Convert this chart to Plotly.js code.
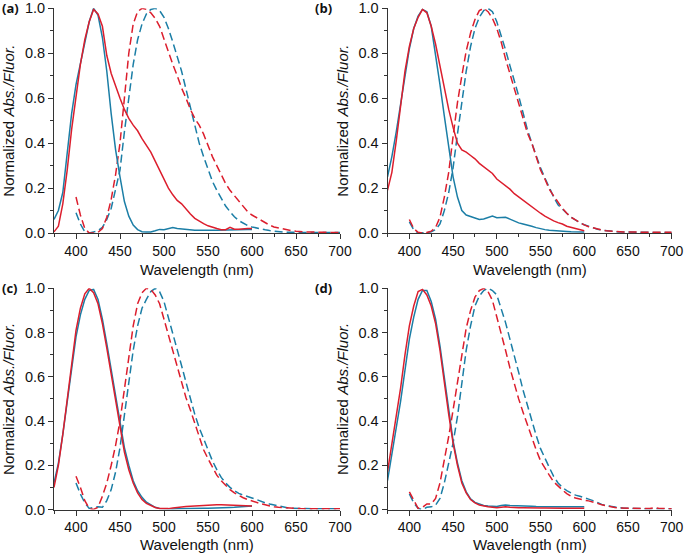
<!DOCTYPE html>
<html>
<head>
<meta charset="utf-8">
<script src="https://cdn.plot.ly/plotly-3.0.1.min.js"></script>
<style>html,body{margin:0;padding:0;background:#fff;}#chart{width:685px;height:554px;}</style>
</head>
<body>
<div id="chart"></div>
<script>
// Wavelength grids (nm)
const absWl = [375,380,385,390,395,400,405,410,415,420,425,430,435,440,445,450,455,460,465,470,475,480,485,490,495,500,505,510,515,520,525,530,535,540,545,550,555,560,565,570,575,580,585,590,595,600];
const flWl = [400,405,410,415,420,425,430,435,440,445,450,455,460,465,470,475,480,485,490,495,500,505,510,515,520,525,530,535,540,545,550,555,560,565,570,575,580,585,590,595,600,605,610,615,620,625,630,635,640,645,650,655,660,665,670,675,680,685,690,695,700];

// Tick values / labels
const xTickVals = [400,450,500,550,600,650,700];
const xTickText = ['400','450','500','550','600','650','700'];
const yTickVals = [0,0.2,0.4,0.6,0.8,1.0];
const yTickText = ['0.0','0.2','0.4','0.6','0.8','1.0'];

// Panel (a)
const aAbsBlue = [0.06,0.10,0.18,0.36,0.53,0.66,0.75,0.84,0.94,1.0,0.97,0.87,0.72,0.53,0.37,0.25,0.14,0.075,0.035,0.015,0.006,0.004,0.005,0.01,0.016,0.014,0.018,0.024,0.02,0.018,0.013,0.012,0.012,0.012,0.011,0.011,0.012,0.012,0.013,0.013,0.014,0.014,0.015,0.015,0.016,0.016];
const aAbsRed = [0.005,0.03,0.13,0.28,0.46,0.61,0.75,0.86,0.94,0.995,0.975,0.92,0.79,0.71,0.65,0.60,0.55,0.51,0.48,0.455,0.42,0.39,0.36,0.32,0.28,0.24,0.20,0.17,0.145,0.13,0.105,0.085,0.065,0.052,0.042,0.032,0.025,0.02,0.015,0.015,0.025,0.017,0.017,0.02,0.02,0.02];
const aFlBlue = [0.09,0.04,0.005,0.0,0.005,0.01,0.025,0.06,0.11,0.19,0.28,0.45,0.61,0.75,0.86,0.93,0.975,0.995,1.0,0.99,0.96,0.91,0.85,0.79,0.72,0.64,0.56,0.48,0.40,0.34,0.28,0.23,0.19,0.155,0.12,0.095,0.072,0.055,0.043,0.033,0.027,0.022,0.018,0.014,0.011,0.008,0.006,0.004,0.003,0.003,0.002,0.002,0.002,0.002,0.002,0.002,0.002,0.002,0.002,0.002,0.002];
const aFlRed = [0.16,0.08,0.02,0.0,0.0,0.003,0.02,0.07,0.15,0.26,0.40,0.61,0.80,0.93,0.985,1.0,0.995,0.98,0.955,0.92,0.86,0.80,0.75,0.70,0.645,0.60,0.55,0.51,0.48,0.44,0.39,0.34,0.30,0.26,0.22,0.19,0.165,0.14,0.115,0.095,0.08,0.068,0.058,0.045,0.035,0.027,0.022,0.018,0.014,0.01,0.008,0.006,0.005,0.004,0.004,0.003,0.003,0.003,0.002,0.002,0.002];

// Panel (b)
const bAbsBlue = [0.25,0.34,0.45,0.57,0.71,0.82,0.91,0.965,0.995,0.985,0.92,0.80,0.66,0.52,0.385,0.25,0.16,0.10,0.08,0.074,0.068,0.06,0.062,0.068,0.075,0.068,0.07,0.07,0.062,0.052,0.045,0.04,0.036,0.03,0.024,0.018,0.015,0.012,0.01,0.009,0.008,0.007,0.006,0.006,0.005,0.005];
const bAbsRed = [0.19,0.27,0.41,0.57,0.72,0.83,0.91,0.96,0.995,0.98,0.92,0.84,0.74,0.64,0.55,0.47,0.40,0.37,0.36,0.345,0.33,0.31,0.295,0.28,0.265,0.24,0.225,0.21,0.195,0.175,0.16,0.145,0.13,0.115,0.10,0.088,0.075,0.064,0.054,0.046,0.04,0.03,0.025,0.02,0.015,0.01];
const bFlBlue = [0.05,0.015,0.0,0.0,0.002,0.005,0.015,0.04,0.10,0.18,0.29,0.44,0.59,0.72,0.83,0.91,0.96,0.99,1.0,0.985,0.94,0.88,0.815,0.745,0.68,0.61,0.535,0.46,0.40,0.34,0.29,0.245,0.20,0.16,0.125,0.105,0.088,0.07,0.057,0.045,0.037,0.03,0.023,0.017,0.013,0.01,0.008,0.006,0.005,0.004,0.004,0.003,0.003,0.003,0.003,0.003,0.003,0.002,0.002,0.002,0.002];
const bFlRed = [0.06,0.02,0.003,0.0,0.002,0.008,0.025,0.07,0.16,0.27,0.43,0.58,0.70,0.81,0.89,0.95,0.99,1.0,0.985,0.955,0.91,0.85,0.775,0.71,0.645,0.585,0.51,0.445,0.40,0.34,0.28,0.24,0.195,0.165,0.135,0.11,0.088,0.07,0.058,0.046,0.036,0.028,0.022,0.017,0.013,0.01,0.008,0.007,0.006,0.005,0.005,0.004,0.004,0.004,0.003,0.003,0.003,0.003,0.003,0.003,0.003];

// Panel (c)
const cAbsBlue = [0.12,0.21,0.34,0.48,0.63,0.78,0.88,0.95,0.99,0.995,0.95,0.86,0.75,0.63,0.50,0.38,0.28,0.20,0.13,0.085,0.055,0.033,0.02,0.01,0.005,0.003,0.002,0.002,0.003,0.004,0.004,0.005,0.005,0.005,0.006,0.006,0.006,0.007,0.008,0.008,0.009,0.01,0.011,0.013,0.015,0.016];
const cAbsRed = [0.10,0.20,0.34,0.49,0.66,0.81,0.91,0.975,1.0,0.98,0.93,0.84,0.73,0.61,0.48,0.36,0.26,0.18,0.12,0.075,0.045,0.028,0.017,0.009,0.005,0.003,0.004,0.007,0.01,0.012,0.014,0.015,0.016,0.018,0.02,0.022,0.022,0.022,0.021,0.02,0.02,0.019,0.018,0.017,0.016,0.016];
const cFlBlue = [0.12,0.07,0.03,0.005,0.01,0.012,0.01,0.04,0.09,0.17,0.28,0.42,0.57,0.72,0.83,0.91,0.95,0.985,1.0,0.985,0.94,0.87,0.80,0.73,0.65,0.575,0.50,0.43,0.37,0.32,0.265,0.22,0.18,0.145,0.12,0.10,0.085,0.073,0.065,0.057,0.052,0.045,0.037,0.03,0.025,0.02,0.015,0.011,0.008,0.006,0.005,0.004,0.004,0.003,0.003,0.003,0.003,0.003,0.003,0.003,0.003];
const cFlRed = [0.15,0.10,0.04,0.005,0.0,0.01,0.06,0.12,0.20,0.29,0.40,0.55,0.70,0.83,0.93,0.98,1.0,0.995,0.97,0.93,0.86,0.79,0.72,0.65,0.57,0.505,0.45,0.39,0.33,0.27,0.23,0.19,0.155,0.13,0.11,0.09,0.075,0.063,0.053,0.045,0.038,0.032,0.026,0.021,0.016,0.012,0.01,0.008,0.006,0.005,0.005,0.004,0.004,0.004,0.003,0.003,0.005,0.006,0.004,0.003,0.003];

// Panel (d)
const dAbsBlue = [0.13,0.25,0.36,0.49,0.63,0.77,0.87,0.95,0.99,0.99,0.94,0.86,0.74,0.59,0.45,0.31,0.21,0.13,0.08,0.048,0.032,0.024,0.018,0.016,0.015,0.014,0.018,0.02,0.018,0.018,0.017,0.016,0.015,0.015,0.014,0.013,0.013,0.013,0.012,0.012,0.012,0.012,0.012,0.012,0.012,0.012];
const dAbsRed = [0.17,0.29,0.41,0.55,0.70,0.83,0.92,0.985,0.995,0.97,0.92,0.84,0.72,0.57,0.43,0.30,0.20,0.12,0.075,0.045,0.03,0.02,0.015,0.012,0.01,0.008,0.01,0.012,0.01,0.008,0.008,0.008,0.007,0.007,0.007,0.007,0.007,0.006,0.006,0.006,0.006,0.006,0.006,0.006,0.006,0.006];
const dFlBlue = [0.07,0.03,0.005,0.0,0.01,0.012,0.02,0.05,0.12,0.21,0.30,0.42,0.58,0.72,0.83,0.92,0.965,0.99,1.0,0.99,0.97,0.91,0.845,0.77,0.70,0.62,0.54,0.47,0.405,0.335,0.275,0.23,0.19,0.15,0.12,0.10,0.085,0.075,0.065,0.06,0.055,0.047,0.04,0.03,0.023,0.017,0.013,0.01,0.008,0.006,0.005,0.004,0.004,0.003,0.003,0.003,0.003,0.003,0.003,0.003,0.003];
const dFlRed = [0.08,0.04,0.005,0.01,0.025,0.025,0.05,0.12,0.22,0.33,0.45,0.58,0.70,0.82,0.90,0.96,0.99,1.0,0.985,0.945,0.87,0.80,0.72,0.64,0.565,0.50,0.44,0.38,0.32,0.27,0.22,0.185,0.155,0.125,0.105,0.088,0.072,0.06,0.052,0.046,0.042,0.039,0.035,0.028,0.021,0.016,0.012,0.009,0.007,0.006,0.006,0.005,0.005,0.004,0.004,0.005,0.008,0.006,0.004,0.003,0.003];

const panelLabels = ['(a)', '(b)', '(c)', '(d)'];
const xTitle = 'Wavelength (nm)';
const yTitle = 'Normalized <i>Abs./Fluor.</i>';

const RED = '#dc1e2d';
const BLUE = '#1b7ea6';
const FONT = 'Liberation Sans, Arial, sans-serif';
const TXT = '#111';

const panels = [
  {absBlue: aAbsBlue, absRed: aAbsRed, flBlue: aFlBlue, flRed: aFlRed},
  {absBlue: bAbsBlue, absRed: bAbsRed, flBlue: bFlBlue, flRed: bFlRed},
  {absBlue: cAbsBlue, absRed: cAbsRed, flBlue: cFlBlue, flRed: cFlRed},
  {absBlue: dAbsBlue, absRed: dAbsRed, flBlue: dFlBlue, flRed: dFlRed}
];

const traces = [];
panels.forEach((p, i) => {
  const xa = i === 0 ? 'x' : 'x' + (i + 1);
  const ya = i === 0 ? 'y' : 'y' + (i + 1);
  const common = {type: 'scatter', mode: 'lines', xaxis: xa, yaxis: ya, hoverinfo: 'skip', showlegend: false};
  traces.push(Object.assign({}, common, {x: flWl, y: p.flBlue, line: {color: BLUE, width: 1.5, dash: '8px,4px'}}));
  traces.push(Object.assign({}, common, {x: flWl, y: p.flRed, line: {color: RED, width: 1.5, dash: '8px,4px'}}));
  traces.push(Object.assign({}, common, {x: absWl, y: p.absBlue, line: {color: BLUE, width: 1.5}}));
  traces.push(Object.assign({}, common, {x: absWl, y: p.absRed, line: {color: RED, width: 1.5}}));
});

const W = 685, H = 554;
const xDomL = [54 / W, 340 / W];
const xDomR = [387.5 / W, 671.7 / W];
const yDomT = [(H - 233) / H, (H - 8.3) / H];
const yDomB = [(H - 509.5) / H, (H - 288.3) / H];

function xAxis(dom, anchor) {
  return {
    domain: dom, anchor: anchor, range: [375, 700],
    tickmode: 'array', tickvals: xTickVals, ticktext: xTickText,
    ticks: 'outside', ticklen: 5, tickwidth: 1, tickcolor: '#333',
    minor: {ticks: 'outside', ticklen: 3, tickwidth: 1, tickcolor: '#333', dtick: 25, tick0: 400, showgrid: false},
    showline: true, linecolor: '#333', linewidth: 1, showgrid: false, zeroline: false,
    tickfont: {family: FONT, size: 14, color: TXT},
    ticklabeloverflow: 'allow',
    fixedrange: true
  };
}
function yAxis(dom, anchor) {
  return {
    domain: dom, anchor: anchor, range: [0, 1.0],
    tickmode: 'array', tickvals: yTickVals, ticktext: yTickText,
    ticks: 'outside', ticklen: 5, tickwidth: 1, tickcolor: '#333',
    minor: {ticks: 'outside', ticklen: 3, tickwidth: 1, tickcolor: '#333', dtick: 0.1, tick0: 0, showgrid: false},
    showline: true, linecolor: '#333', linewidth: 1, showgrid: false, zeroline: false,
    tickfont: {family: FONT, size: 14.5, color: TXT},
    ticklabeloverflow: 'allow',
    title: {text: yTitle, font: {family: FONT, size: 15, color: TXT}, standoff: 6},
    fixedrange: true
  };
}

// Panel letter positions and x-title positions, in paper fractions
const labelPos = [
  {x: 0 / W, y: (H - 8) / H},
  {x: 313 / W, y: (H - 8) / H},
  {x: 0 / W, y: (H - 288) / H},
  {x: 313 / W, y: (H - 288) / H}
];
const xTitleY = [(H - 260) / H, (H - 260) / H, 0, 0];
const xTitleAnchor = ['top', 'top', 'bottom', 'bottom'];
const xTitleX = [(xDomL[0] + xDomL[1]) / 2, (xDomR[0] + xDomR[1]) / 2, (xDomL[0] + xDomL[1]) / 2, (xDomR[0] + xDomR[1]) / 2];

const annotations = [];
for (let i = 0; i < 4; i++) {
  annotations.push({
    text: '<b>' + panelLabels[i] + '</b>', xref: 'paper', yref: 'paper',
    x: labelPos[i].x, y: labelPos[i].y, xanchor: 'left', yanchor: 'middle',
    showarrow: false, font: {family: 'Open Sans, Liberation Sans, sans-serif', size: 13, color: TXT}
  });
}
for (let i = 0; i < 4; i++) {
  annotations.push({
    text: xTitle, xref: 'paper', yref: 'paper',
    x: xTitleX[i], y: xTitleY[i], xanchor: 'center', yanchor: xTitleAnchor[i],
    showarrow: false, borderpad: 0, font: {family: FONT, size: 15, color: TXT}
  });
}

const layout = {
  width: W, height: H,
  margin: {l: 0, r: 0, t: 0, b: 0},
  paper_bgcolor: '#fff', plot_bgcolor: '#fff',
  showlegend: false,
  xaxis: xAxis(xDomL, 'y'),
  yaxis: yAxis(yDomT, 'x'),
  xaxis2: xAxis(xDomR, 'y2'),
  yaxis2: yAxis(yDomT, 'x2'),
  xaxis3: xAxis(xDomL, 'y3'),
  yaxis3: yAxis(yDomB, 'x3'),
  xaxis4: xAxis(xDomR, 'y4'),
  yaxis4: yAxis(yDomB, 'x4'),
  annotations: annotations
};

Plotly.newPlot('chart', traces, layout, {staticPlot: true, displayModeBar: false});
</script>
</body>
</html>
